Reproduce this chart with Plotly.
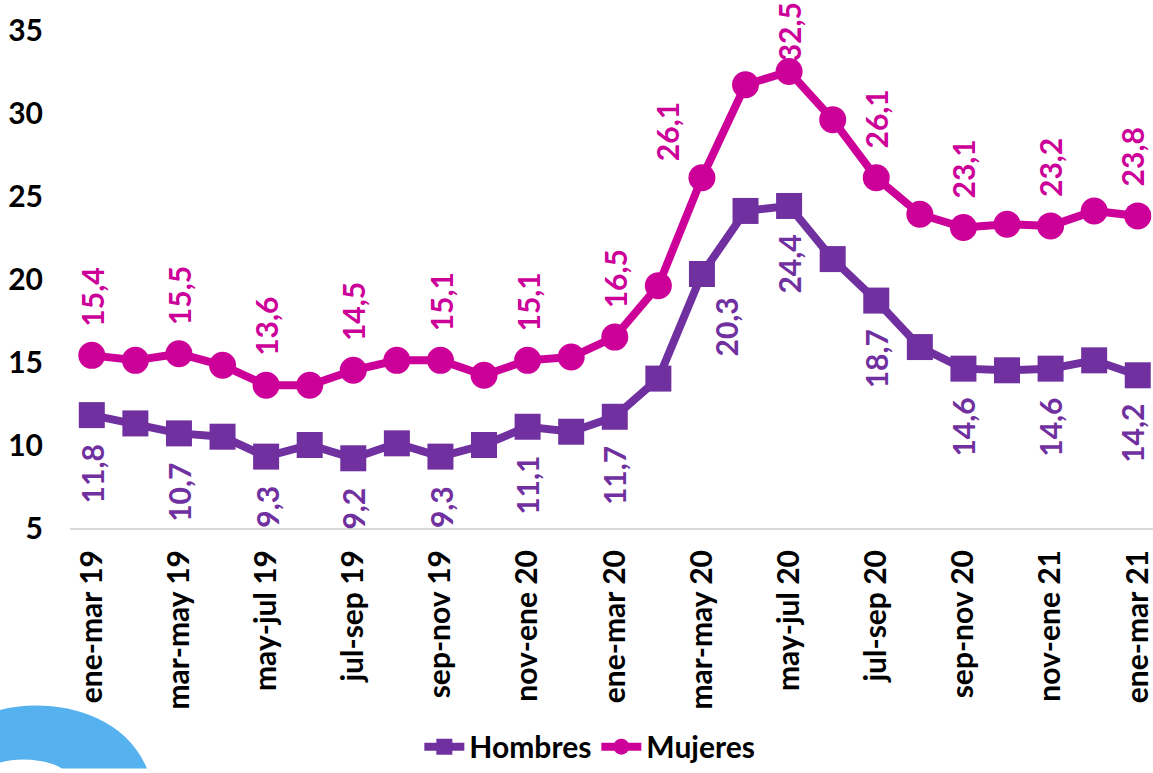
import plotly.graph_objects as go

# Rolling three-month periods
periodos = [
    "ene-mar 19", "feb-abr 19", "mar-may 19", "abr-jun 19", "may-jul 19",
    "jun-ago 19", "jul-sep 19", "ago-oct 19", "sep-nov 19", "oct-dic 19",
    "nov-ene 20", "dic-feb 20", "ene-mar 20", "feb-abr 20", "mar-may 20",
    "abr-jun 20", "may-jul 20", "jun-ago 20", "jul-sep 20", "ago-oct 20",
    "sep-nov 20", "oct-dic 20", "nov-ene 21", "dic-feb 21", "ene-mar 21",
]

hombres = [11.8, 11.3, 10.7, 10.5, 9.3, 10.0, 9.2, 10.1, 9.3, 10.0,
           11.1, 10.8, 11.7, 14.0, 20.3, 24.1, 24.4, 21.2, 18.7, 15.9,
           14.6, 14.5, 14.6, 15.1, 14.2]

mujeres = [15.4, 15.1, 15.5, 14.8, 13.6, 13.6, 14.5, 15.1, 15.1, 14.2,
           15.1, 15.3, 16.5, 19.6, 26.1, 31.7, 32.5, 29.6, 26.1, 23.9,
           23.1, 23.3, 23.2, 24.1, 23.8]

y_ticks = [5, 10, 15, 20, 25, 30, 35]

COL_H = "#7030A0"
COL_M = "#CC0099"
FONT = "Lato"
FS = 30

W, H = 1153, 773
ML, MR, MT, MB = 70, 0, 30, 242
PW, PH = W - ML - MR, H - MT - MB
Y0, Y1 = 5, 35
X0, X1 = -0.5, 24.35

# Hand-placed labels that would otherwise sit on top of a line: (dx, dy) in px
label_nudge_m = {14: (-35, -12)}
label_nudge_h = {14: (24, 6)}


def fmt(v):
    return f"{v:.1f}".replace(".", ",")


def edge_shift(i):
    # keep a vertical label's box inside the page at the right edge
    px = ML + (i - X0) / (X1 - X0) * PW
    return min(0, W - 2 - (px + 19))


fig = go.Figure()

fig.add_trace(go.Scatter(
    x=periodos, y=hombres, name="Hombres", mode="lines+markers",
    line=dict(color=COL_H, width=8),
    marker=dict(symbol="square", size=26, color=COL_H),
    cliponaxis=False,
))
fig.add_trace(go.Scatter(
    x=periodos, y=mujeres, name="Mujeres", mode="lines+markers",
    line=dict(color=COL_M, width=8),
    marker=dict(symbol="circle", size=27, color=COL_M),
    cliponaxis=False,
))

# Vertical value labels on every second period
annotations = []
for i in range(0, len(periodos), 2):
    vm = mujeres[i]
    py = MT + (Y1 - vm) / (Y1 - Y0) * PH
    shift_m = min(27, py - 64)
    dx, dy = label_nudge_m.get(i, (0, 0))
    annotations.append(dict(
        x=periodos[i], y=vm, text=fmt(vm), showarrow=False, textangle=-90,
        xanchor="center", yanchor="bottom", yshift=shift_m + dy, xshift=dx + edge_shift(i),
        font=dict(family=FONT, size=FS, color=COL_M, weight="bold"),
    ))
    vh = hombres[i]
    dx, dy = label_nudge_h.get(i, (0, 0))
    annotations.append(dict(
        x=periodos[i], y=vh, text=fmt(vh), showarrow=False, textangle=-90,
        xanchor="center", yanchor="top", yshift=-27 + dy, xshift=dx + edge_shift(i),
        font=dict(family=FONT, size=FS, color=COL_H, weight="bold"),
    ))


def px_to_paper(x, y):
    return (x - ML) / PW, (MT + PH - y) / PH


# Blue ring ornament in the lower-left corner
pts = [(0, 714), (45, 702), (122, 712), (147, 773), (62, 773), (48, 764), (20, 761), (0, 767)]
pp = [px_to_paper(*p) for p in pts]
path = (f"M {pp[0][0]},{pp[0][1]} C {pp[1][0]},{pp[1][1]} {pp[2][0]},{pp[2][1]} {pp[3][0]},{pp[3][1]} "
        f"L {pp[4][0]},{pp[4][1]} C {pp[5][0]},{pp[5][1]} {pp[6][0]},{pp[6][1]} {pp[7][0]},{pp[7][1]} Z")

fig.update_layout(
    width=W, height=H, autosize=False,
    margin=dict(l=ML, r=MR, t=MT, b=MB),
    paper_bgcolor="white", plot_bgcolor="white",
    font=dict(family=FONT, color="black"),
    showlegend=True,
    legend=dict(
        orientation="h", x=0.48, xanchor="center", y=px_to_paper(0, 751)[1], yanchor="middle",
        font=dict(family=FONT, size=FS, color="black", weight="bold"),
        itemwidth=40, bgcolor="rgba(0,0,0,0)",
    ),
    annotations=annotations,
    shapes=[dict(type="path", path=path, xref="paper", yref="paper",
                 fillcolor="#55B2EE", line=dict(width=0), layer="below")],
    xaxis=dict(
        type="category", range=[X0, X1],
        tickvals=periodos[::2], ticktext=periodos[::2],
        tickangle=-90, showgrid=False, zeroline=False,
        showline=True, linecolor="#D9D9D9", linewidth=2,
        ticks="", ticklabelstandoff=8,
        tickfont=dict(family=FONT, size=FS, color="black", weight="bold"),
    ),
    yaxis=dict(
        range=[Y0, Y1], tickvals=y_ticks, showgrid=False, zeroline=False,
        showline=False, ticks="", ticklabelstandoff=26,
        tickfont=dict(family=FONT, size=FS, color="black", weight="bold"),
    ),
)

fig.write_html("out.html")
